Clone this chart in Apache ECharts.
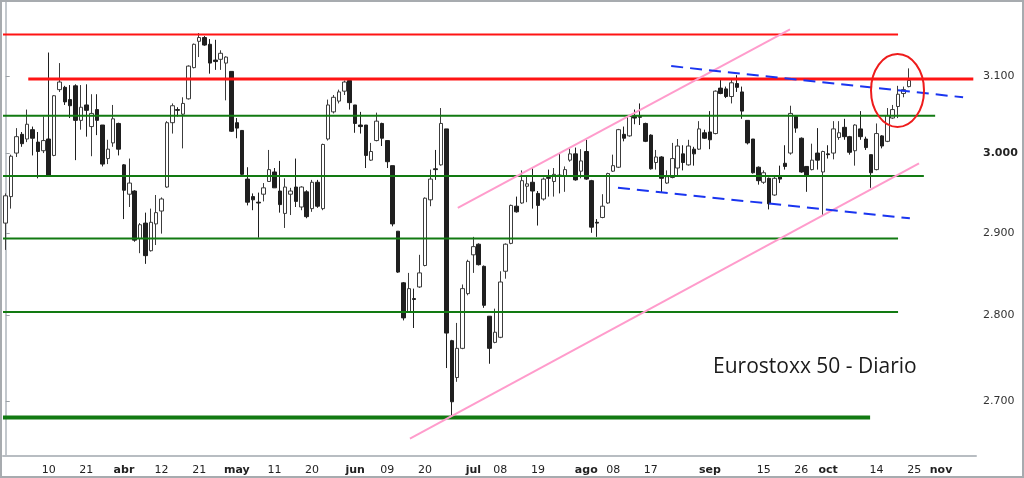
<!DOCTYPE html>
<html>
<head>
<meta charset="utf-8">
<script src="https://cdn.jsdelivr.net/npm/echarts@6/dist/echarts.min.js"></script>
<style>
  html, body { margin: 0; padding: 0; background: #fff; }
  #wrap { position: relative; width: 1024px; height: 478px; }
  #chart { width: 1024px; height: 478px; }
  #frame { position: absolute; left: 0; top: 0; width: 1024px; height: 478px; box-sizing: border-box;
           border: 2px solid #a7abaf; pointer-events: none; }
</style>
</head>
<body>
<div id="wrap"><div id="chart"></div><div id="frame"></div></div>
<script>
// trading calendar
const startDate = '2016-02-29';
const holidays = ['2016-03-25', '2016-03-28'];
const dayCount = 181;

// daily candles, Eurostoxx 50
const opens = [
  2912, 2945, 3000, 3024, 3018, 3030, 3014, 3003, 3018, 2997,
  3082, 3085, 3069, 3087, 3042, 3062, 3034, 3056, 3036, 2993,
  3013, 3038, 2985, 2948, 2952, 2893, 2912, 2878, 2911, 2927,
  2957, 3039, 3056, 3050, 3070, 3111, 3146, 3151, 3142, 3121,
  3122, 3117, 3106, 3039, 3029, 2967, 2945, 2938, 2948, 2964,
  2976, 2952, 2924, 2948, 2957, 2932, 2951, 2930, 2963, 2930,
  3018, 3053, 3067, 3080, 3094, 3062, 3036, 3036, 2991, 3016,
  3038, 3016, 2984, 2902, 2839, 2804, 2820, 2834, 2860, 2941,
  2980, 2985, 3031, 2770, 2727, 2761, 2826, 2873, 2886, 2859,
  2799, 2768, 2774, 2853, 2887, 2933, 2937, 2958, 2963, 2949,
  2942, 2969, 2964, 2972, 2971, 2991, 2999, 2977, 3002, 2965,
  2913, 2919, 2937, 2977, 2982, 3024, 3022, 3047, 3047, 3038,
  3023, 2988, 2995, 2962, 2969, 2981, 2999, 2985, 3005, 3005,
  3026, 3027, 3025, 3084, 3083, 3073, 3090, 3079, 3042, 3018,
  2982, 2963, 2968, 2947, 2970, 2987, 3000, 3047, 3019, 2983,
  2979, 3000, 2976, 2999, 3000, 3020, 3033, 3021, 3003, 3031,
  3018, 2998, 2979, 3022, 3015, 3045, 3060, 3077, 3086
];
const closes = [
  2946, 2996, 3021, 3012, 3037, 3019, 3002, 3016, 2972, 3074,
  3092, 3066, 3061, 3042, 3059, 3055, 3051, 3042, 2986, 3005,
  3044, 3005, 2953, 2962, 2891, 2910, 2872, 2913, 2925, 2942,
  3039, 3061, 3055, 3064, 3113, 3142, 3151, 3141, 3117, 3119,
  3130, 3125, 3028, 3032, 2973, 2938, 2941, 2937, 2956, 2979,
  2956, 2935, 2957, 2952, 2939, 2957, 2920, 2963, 2933, 3011,
  3062, 3072, 3079, 3092, 3065, 3038, 3034, 2997, 3002, 3041,
  3019, 2989, 2911, 2852, 2797, 2832, 2819, 2851, 2943, 2967,
  2979, 3038, 2779, 2699, 2761, 2832, 2865, 2883, 2861, 2812,
  2761, 2780, 2840, 2886, 2934, 2926, 2965, 2961, 2952, 2934,
  2967, 2968, 2973, 2971, 2979, 2999, 2966, 2990, 2967, 2907,
  2912, 2933, 2974, 2984, 3030, 3019, 3047, 3045, 3046, 3015,
  2980, 2995, 2968, 2970, 2993, 3009, 2988, 3009, 2999, 3031,
  3019, 3017, 3080, 3077, 3073, 3091, 3085, 3054, 3013, 2975,
  2965, 2975, 2936, 2968, 2967, 2983, 3051, 3032, 2976, 2972,
  2991, 2991, 3002, 2998, 3031, 3026, 3021, 3001, 3036, 3021,
  3007, 2975, 3025, 3009, 3048, 3056, 3076, 3082, 3094
];
const lows = [
  2879, 2930, 2995, 3008, 3014, 2997, 2968, 3000, 2970, 2996,
  3079, 3062, 3045, 2991, 3030, 3021, 2996, 3023, 2983, 2986,
  3008, 2997, 2917, 2932, 2889, 2875, 2862, 2877, 2885, 2899,
  2956, 3025, 3047, 3006, 3069, 3110, 3125, 3140, 3103, 3108,
  3108, 3068, 3027, 3019, 2972, 2934, 2928, 2894, 2939, 2964,
  2956, 2925, 2906, 2922, 2932, 2928, 2918, 2926, 2931, 2928,
  3016, 3051, 3064, 3075, 3056, 3026, 3025, 2981, 2990, 3015,
  3009, 2981, 2908, 2851, 2794, 2803, 2785, 2833, 2859, 2933,
  2966, 2984, 2738, 2681, 2722, 2760, 2824, 2851, 2860, 2809,
  2743, 2767, 2773, 2844, 2886, 2925, 2936, 2938, 2930, 2909,
  2940, 2945, 2945, 2949, 2951, 2989, 2965, 2968, 2966, 2900,
  2895, 2918, 2936, 2976, 2981, 3015, 3021, 3037, 3036, 3014,
  2979, 2979, 2950, 2961, 2968, 2971, 2978, 2984, 2984, 3004,
  3018, 3005, 3024, 3076, 3071, 3064, 3079, 3044, 3011, 2974,
  2960, 2961, 2929, 2946, 2962, 2979, 2998, 3026, 2975, 2951,
  2978, 2979, 2922, 2993, 2992, 3017, 3017, 2998, 2984, 3017,
  3004, 2956, 2978, 3006, 3014, 3044, 3045, 3072, 3085
];
const highs = [
  2949, 2998, 3032, 3027, 3056, 3034, 3027, 3047, 3131, 3075,
  3117, 3087, 3088, 3089, 3088, 3089, 3076, 3076, 3036, 3017,
  3062, 3039, 2986, 2993, 2953, 2912, 2925, 2930, 2947, 2944,
  3041, 3064, 3059, 3072, 3114, 3143, 3157, 3153, 3149, 3148,
  3134, 3126, 3106, 3045, 3029, 2982, 2949, 2950, 2962, 3004,
  2981, 2990, 2968, 2956, 2993, 2958, 2953, 2966, 2966, 3012,
  3069, 3075, 3082, 3094, 3095, 3062, 3053, 3036, 3013, 3052,
  3039, 3016, 2984, 2902, 2840, 2851, 2832, 2873, 2944, 2979,
  3004, 3058, 3031, 2771, 2791, 2837, 2867, 2895, 2887, 2860,
  2799, 2808, 2853, 2887, 2935, 2945, 2978, 2971, 2981, 2952,
  2969, 2979, 2981, 2999, 2983, 3006, 3007, 3005, 3017, 2966,
  2917, 2948, 2975, 2998, 3031, 3034, 3049, 3056, 3064, 3039,
  3024, 3004, 2996, 2978, 3013, 3018, 3010, 3017, 3008, 3041,
  3030, 3054, 3081, 3095, 3086, 3095, 3101, 3086, 3042, 3018,
  2983, 2978, 2969, 2971, 2984, 3010, 3061, 3047, 3020, 2983,
  3012, 3032, 3003, 3010, 3041, 3041, 3044, 3022, 3037, 3054,
  3021, 2998, 3038, 3023, 3058, 3062, 3087, 3086, 3110
];

// axis ticks
const tickDates = [
  '2016-03-10', '2016-03-21', '2016-04-01', '2016-04-12', '2016-04-21', '2016-05-02',
  '2016-05-11', '2016-05-20', '2016-06-01', '2016-06-09', '2016-06-20', '2016-07-01',
  '2016-07-08', '2016-07-19', '2016-08-01', '2016-08-08', '2016-08-17', '2016-09-01',
  '2016-09-15', '2016-09-26', '2016-10-03', '2016-10-14', '2016-10-25', '2016-11-01'
];
const monthNames = ['ene', 'feb', 'mar', 'abr', 'may', 'jun', 'jul', 'ago', 'sep', 'oct', 'nov', 'dic'];
const yTicks = [2700, 2800, 2900, 3000, 3100];

// drawn levels: price, and span in day index
const resistance = [3155, 3096];
const resistanceFrom = [-0.5, 4.2];
const resistanceTo = [166, 180];
const support = [3048, 2971, 2893, 2804, 2681];
const supportTo = [172.9, 170.8, 166, 166, 160.8];

// trend lines [dayIndex, price]
const channelTop = [[84.1, 2931], [145.9, 3162]];
const channelBottom = [[75.2, 2657], [169.9, 2987]];
const wedgeTop = [[123.8, 3113], [178.1, 3072]];
const wedgeBottom = [[113.9, 2956], [168.2, 2918]];
const breakout = [165.9, 3081];

function tradingDays(start, n) {
  const out = [];
  const d = new Date(start + 'T00:00:00Z');
  while (out.length < n) {
    const iso = d.toISOString().slice(0, 10);
    const wd = d.getUTCDay();
    if (wd !== 0 && wd !== 6 && holidays.indexOf(iso) < 0) out.push(iso);
    d.setUTCDate(d.getUTCDate() + 1);
  }
  return out;
}

const days = tradingDays(startDate, dayCount);
const ohlc = opens.map((o, i) => [o, closes[i], lows[i], highs[i]]);

const isTick = (i, v) => tickDates.indexOf(v) >= 0;
const monthStart = v => {
  const i = days.indexOf(v);
  return i > 0 && days[i - 1].slice(5, 7) !== v.slice(5, 7);
};
const fmtNum = v => {
  const s = String(Math.round(v));
  return s.slice(0, s.length - 3) + '.' + s.slice(-3);
};

const lineSeries = (data, color, width, type) => ({
  type: 'line',
  xAxisIndex: 1,
  yAxisIndex: 0,
  data: data,
  symbol: 'none',
  silent: true,
  z: 5,
  lineStyle: { color: color, width: width, type: type || 'solid' }
});

const series = [{
  type: 'candlestick',
  xAxisIndex: 0,
  yAxisIndex: 0,
  data: ohlc,
  barWidth: 4,
  z: 2,
  itemStyle: {
    color: '#ffffff',
    color0: '#1f1f1f',
    borderColor: '#3c3c3c',
    borderColor0: '#1f1f1f',
    borderWidth: 1
  }
}];

resistance.forEach((v, k) => {
  series.push(lineSeries([[resistanceFrom[k], v], [resistanceTo[k], v]], '#ff1414', k === 0 ? 2 : 3));
});
support.forEach((v, k) => {
  series.push(lineSeries([[-0.5, v], [supportTo[k], v]], '#127a12', k === support.length - 1 ? 4 : 2));
});
series.push(lineSeries(channelTop, '#ff9ccc', 2));
series.push(lineSeries(channelBottom, '#ff9ccc', 2));
series.push(lineSeries(wedgeTop, '#1a35f0', 2, [12, 7]));
series.push(lineSeries(wedgeBottom, '#1a35f0', 2, [12, 7]));

const chart = echarts.init(document.getElementById('chart'));

chart.setOption({
  animation: false,
  title: {
    text: 'Eurostoxx 50 - Diario',
    left: 713,
    top: 357,
    padding: 0,
    textStyle: { fontFamily: 'Open Sans', fontSize: 21, fontWeight: 'normal', color: '#1a1a1a' }
  },
  grid: { left: 3, right: 48, top: 2, bottom: 22, containLabel: false },
  xAxis: [{
    type: 'category',
    data: days,
    boundaryGap: true,
    axisLine: { lineStyle: { color: '#b8bdc2', width: 2 } },
    axisTick: { alignWithLabel: true, interval: isTick, length: 4, lineStyle: { color: '#9ba1a6' } },
    axisLabel: {
      interval: isTick,
      margin: 9,
      color: '#222',
      fontFamily: 'DejaVu Sans',
      fontSize: 11,
      formatter: v => monthStart(v) ? '{m|' + monthNames[+v.slice(5, 7) - 1] + '}' : v.slice(8),
      rich: { m: { fontFamily: 'DejaVu Sans', fontSize: 11, fontWeight: 'bold', color: '#222' } }
    },
    splitLine: { show: false }
  }, {
    type: 'value',
    min: -0.5,
    max: dayCount - 0.5,
    show: false
  }],
  yAxis: {
    type: 'log',
    logBase: 10,
    min: 2637.5,
    max: 3199,
    position: 'right',
    axisLine: { show: true, lineStyle: { color: '#c3c8cd', width: 2 } },
    axisTick: { show: true, customValues: yTicks, length: 4, lineStyle: { color: '#9ba1a6' } },
    axisLabel: {
      customValues: yTicks,
      margin: 7,
      color: '#333',
      fontFamily: 'DejaVu Sans',
      fontSize: 11,
      formatter: v => Math.round(v) === 3000 ? '{b|' + fmtNum(v) + '}' : fmtNum(v),
      rich: { b: { fontFamily: 'DejaVu Sans', fontSize: 11, fontWeight: 'bold', color: '#222' } }
    },
    splitLine: { show: false },
    minorTick: { show: false }
  },
  series: series
});

const c = chart.convertToPixel({ xAxisIndex: 1, yAxisIndex: 0 }, breakout);
chart.setOption({
  graphic: [{
    type: 'ellipse',
    silent: true,
    z: 20,
    shape: { cx: c[0], cy: c[1], rx: 26.5, ry: 36.5 },
    style: { fill: 'none', stroke: '#ee1c1c', lineWidth: 2 }
  }]
});
</script>
</body>
</html>
